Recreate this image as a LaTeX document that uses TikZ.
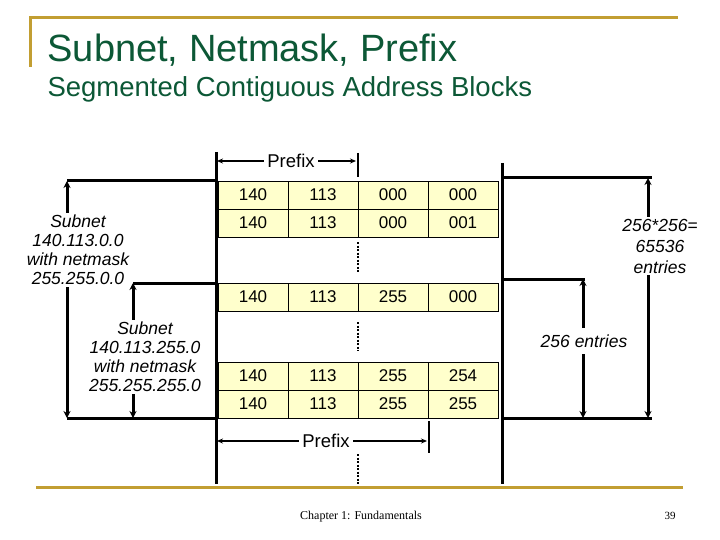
\documentclass[tikz,border=0pt]{standalone}
\usepackage{fontspec}
\setmainfont{Liberation Sans}
\newfontfamily\footfont{Liberation Serif}
\usetikzlibrary{arrows.meta}
\definecolor{titlegreen}{RGB}{12,88,54}
\definecolor{rulegold}{RGB}{194,158,50}
\definecolor{cellyellow}{RGB}{255,255,204}

\begin{document}
\begin{tikzpicture}[x=1pt, y=-1pt,
    cell/.style={draw, line width=0.8pt, fill=cellyellow, minimum width=70pt, minimum height=28pt, inner sep=0pt, font=\fontsize{17}{17}\selectfont},
    bar/.style={line width=3pt},
    span/.style={line width=3pt, {Stealth[length=7pt,width=7pt]}-{Stealth[length=7pt,width=7pt]}},
    lbl/.style={fill=white, inner sep=2pt, align=center, font=\fontsize{17.5}{19}\selectfont\itshape},
    pfx/.style={line width=1.3pt, -{Stealth[length=6pt,width=5pt]}},
    gap/.style={line width=2.5pt, dash pattern=on 2pt off 1.5pt},
    gold/.style={rulegold, line width=3pt}]

    % Page and frame
    \fill[white] (0,0) rectangle (720,540);
    \useasboundingbox (0,0) rectangle (720,540);
    \draw[gold] (30,67) -- (30,18) -- (678,18);
    \draw[gold] (36,487) -- (683,487);

    \node[anchor=base west, text=titlegreen, font=\fontsize{38}{40}\selectfont] (title) at (44,62) {Subnet, Netmask, Prefix};
    \node[anchor=base west, text=titlegreen, font=\fontsize{27.5}{30}\selectfont] (subtitle) at (44,97) {Segmented Contiguous Address Blocks};

    % Draw the address rows
    \foreach \y/\r/\a/\b/\c/\d in {195/1/140/113/000/000, 223/2/140/113/000/001, 297/3/140/113/255/000, 376/4/140/113/255/254, 404/5/140/113/255/255} {
        \node[cell] (r\r-1) at (253,\y) {\a};
        \node[cell] (r\r-2) at (323,\y) {\b};
        \node[cell] (r\r-3) at (393,\y) {\c};
        \node[cell] (r\r-4) at (463,\y) {\d};
    }

    % Boundary bars
    \coordinate (lt) at (216,152);
    \coordinate (lb) at (216,484);
    \coordinate (rt) at (502,163);
    \coordinate (rb) at (502,484);
    \draw[bar] (lt) -- (lb);
    \draw[bar] (rt) -- (rb);

    % Dotted gaps
    \draw[gap] (358,242) -- (358,273);
    \draw[gap] (358,322) -- (358,351);
    \draw[gap] (358,454) -- (358,484);

    % Prefix markers
    \node[font=\fontsize{18.5}{18.5}\selectfont] (pfxtop) at (291,161) {Prefix};
    \coordinate (pfxtopl) at (217,161);
    \coordinate (pfxtopr) at (356,161);
    \draw[pfx] (pfxtop) -- (pfxtopl);
    \draw[pfx] (pfxtop) -- (pfxtopr);
    \draw[line width=2.5pt] (358,153) -- (358,177);

    \node[font=\fontsize{18.5}{18.5}\selectfont] (pfxbot) at (326,441) {Prefix};
    \coordinate (pfxbotl) at (217,441);
    \coordinate (pfxbotr) at (427,441);
    \draw[pfx] (pfxbot) -- (pfxbotl);
    \draw[pfx] (pfxbot) -- (pfxbotr);
    \draw[line width=2.5pt] (429,421) -- (429,453);

    % Left spans
    \coordinate (la) at (67,181);
    \coordinate (lz) at (67,418);
    \coordinate (ma) at (133,283);
    \coordinate (mz) at (133,418);
    \draw[bar] (la) -- (216,181);
    \draw[bar] (ma) -- (216,283);
    \draw[bar] (lz) -- (216,418);
    \draw[span] (la) -- (lz);
    \draw[span] (ma) -- (mz);
    \node[lbl] (sub1) at (78,250) {Subnet\\140.113.0.0\\with netmask\\255.255.0.0};
    \node[lbl] (sub2) at (145,357) {Subnet\\140.113.255.0\\with netmask\\255.255.255.0};

    % Right spans
    \coordinate (ra) at (648,178);
    \coordinate (rz) at (648,418);
    \coordinate (na) at (583,279);
    \coordinate (nz) at (583,418);
    \draw[bar] (502,178) -- (652,178);
    \draw[bar] (502,279) -- (585,279);
    \draw[bar] (502,418) -- (652,418);
    \draw[span] (ra) -- (rz);
    \draw[span] (na) -- (nz);
    \node[lbl, font=\fontsize{17.5}{21}\selectfont\itshape] (big) at (660,246) {256*256=\\65536\\entries};
    \node[lbl, inner ysep=7pt] (small) at (584,341) {256 entries};

    % Footer
    \node[font=\footfont\fontsize{12}{12}\selectfont] (chapter) at (361,517) {Chapter 1: Fundamentals};
    \node[font=\footfont\fontsize{11}{11}\selectfont] (page) at (670,516) {39};
\end{tikzpicture}
\end{document}
